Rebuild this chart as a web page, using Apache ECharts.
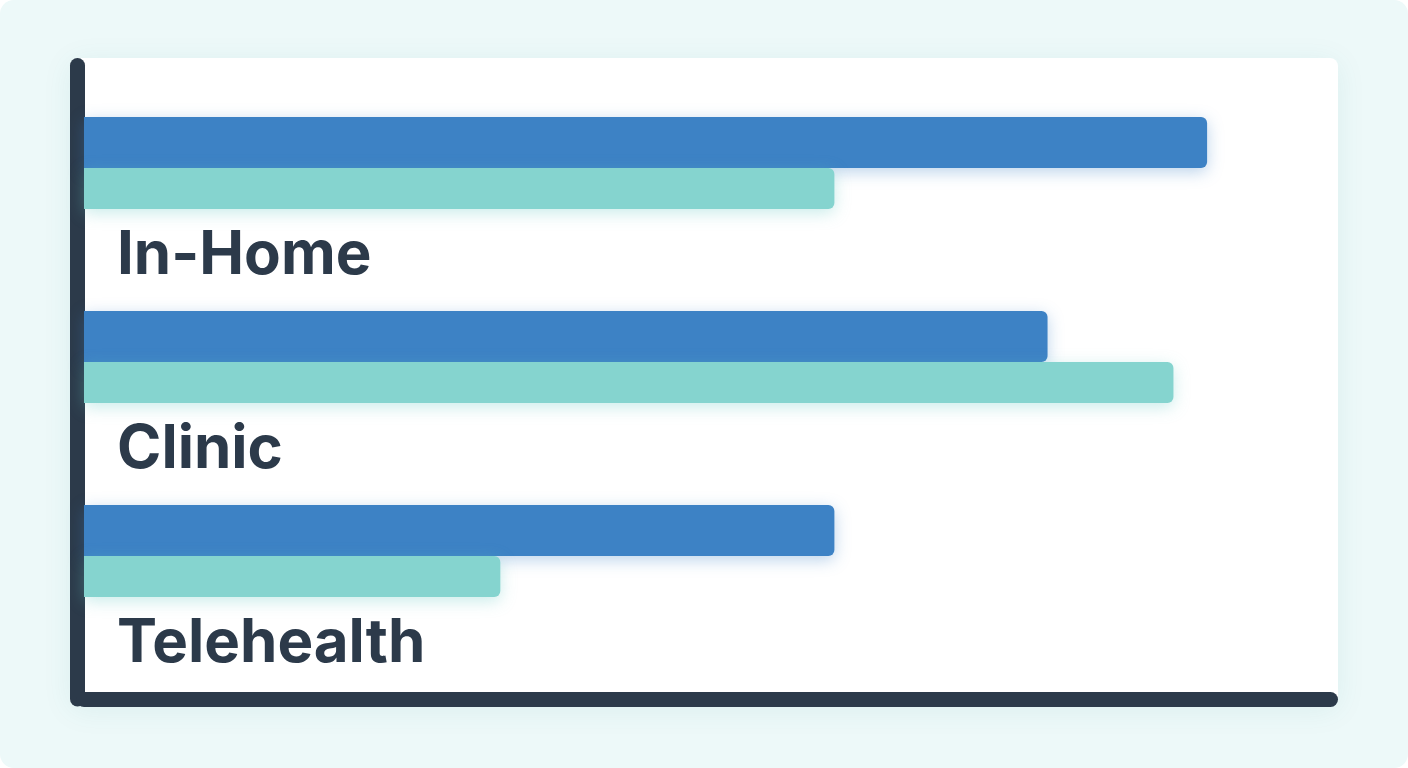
<!DOCTYPE html>
<html>
<head>
<meta charset="utf-8">
<script src="https://cdn.jsdelivr.net/npm/echarts@6/dist/echarts.min.js"></script>
<style>
html,body{margin:0;padding:0;background:#ffffff;}
#chart{width:1408px;height:768px;}
</style>
</head>
<body>
<div id="chart"></div>
<script>
const categories = ['In-Home', 'Clinic', 'Telehealth'];
const seriesA = [90.1, 77.3, 60.2];
const seriesB = [60.2, 87.4, 33.4];
const valueMin = 0;
const valueMax = 100;

const chart = echarts.init(document.getElementById('chart'));
const axisColor = '#2c3a4a';

chart.setOption({
  backgroundColor: 'transparent',
  animation: false,
  graphic: [
    { type: 'rect', z: -10, shape: { x: 0, y: 0, width: 1408, height: 768, r: 14 }, style: { fill: '#edf9f9' } },
    { type: 'rect', z: -9, shape: { x: 70, y: 58, width: 1268, height: 648, r: 8 },
      style: { fill: '#ffffff', shadowBlur: 30, shadowColor: 'rgba(0,110,110,0.08)', shadowOffsetY: 4 } }
  ],
  grid: [
    { left: 84, right: 77.5, top: 65.5, bottom: 69, outerBoundsMode: 'none', containLabel: false },
    { left: 84, right: 77.5, top: 66, bottom: 120, outerBoundsMode: 'none', containLabel: false }
  ],
  xAxis: [
    { gridIndex: 0, type: 'value', min: valueMin, max: valueMax,
      axisLine: { show: true, onZero: false, lineStyle: { color: axisColor, width: 15, cap: 'round' } },
      axisTick: { show: false }, axisLabel: { show: false }, splitLine: { show: false } },
    { gridIndex: 1, type: 'value', min: valueMin, max: valueMax,
      axisLine: { show: false }, axisTick: { show: false }, axisLabel: { show: false }, splitLine: { show: false } }
  ],
  yAxis: [
    { gridIndex: 0, type: 'value', min: 0, max: 1, offset: 7,
      axisLine: { show: true, onZero: false, lineStyle: { color: axisColor, width: 15, cap: 'round' } },
      axisTick: { show: false }, axisLabel: { show: false }, splitLine: { show: false } },
    { gridIndex: 1, type: 'category', data: categories, inverse: true,
      axisLine: { show: false }, axisTick: { show: false }, splitLine: { show: false },
      axisLabel: { show: true, inside: true, interval: 0, margin: 33, color: axisColor,
        fontFamily: 'Inter', fontWeight: 700, fontSize: 60, lineHeight: 186,
        verticalAlign: 'middle', formatter: function (v) { return '\n' + v; } } }
  ],
  series: [
    { type: 'bar', xAxisIndex: 1, yAxisIndex: 1, data: seriesA, barWidth: 51, barGap: '0%',
      itemStyle: { color: '#3d82c5', borderRadius: [0, 6, 6, 0],
        shadowBlur: 16, shadowColor: 'rgba(61,130,197,0.35)', shadowOffsetY: 4 } },
    { type: 'bar', xAxisIndex: 1, yAxisIndex: 1, data: seriesB, barWidth: 41, barGap: '0%',
      itemStyle: { color: '#85d4cf', borderRadius: [0, 6, 6, 0],
        shadowBlur: 16, shadowColor: 'rgba(100,200,195,0.35)', shadowOffsetY: 4 } }
  ]
});
</script>
</body>
</html>
